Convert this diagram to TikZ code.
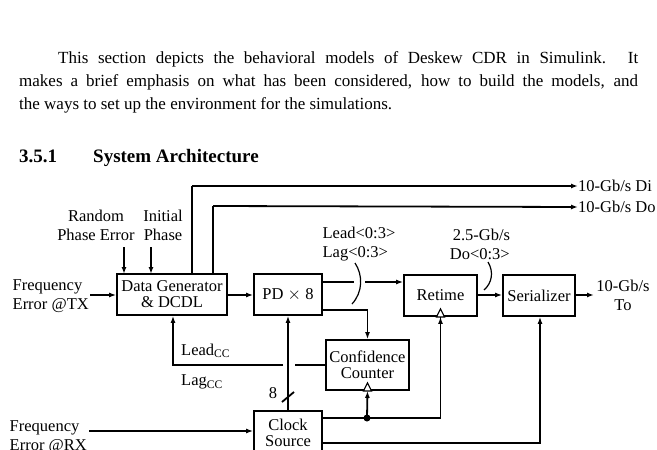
\documentclass[tikz,border=0pt]{standalone}
\usepackage{fontspec}
\setmainfont{Liberation Serif}
\usetikzlibrary{arrows.meta}
\begin{document}
\begin{tikzpicture}[x=1pt,y=-1pt,
  blk/.style={draw,line width=1.8pt,inner sep=0pt,align=center,font=\fontsize{16.5}{17}\selectfont},
  wire/.style={line width=1.8pt},
  arr/.style={wire,-{Latex[length=7pt,width=5pt]}},
  lbl/.style={align=left,font=\fontsize{16.5}{19}\selectfont,inner sep=0pt},
  clk/.style={line width=1.2pt,fill=white}]
\useasboundingbox (0,0) rectangle (657,450);
% text
\node[anchor=base west,inner sep=0pt,font=\fontsize{17}{20}\selectfont] (t1) at (58,63) {\makebox[580pt][s]{This section depicts the behavioral models of Deskew CDR in Simulink. It}};
\node[anchor=base west,inner sep=0pt,font=\fontsize{17}{20}\selectfont] (t2) at (19,86) {\makebox[619pt][s]{makes a brief emphasis on what has been considered, how to build the models, and}};
\node[anchor=base west,inner sep=0pt,font=\fontsize{17}{20}\selectfont] (t3) at (19,109) {the ways to set up the environment for the simulations.};
\node[anchor=base west,inner sep=0pt,font=\bfseries\fontsize{19}{22}\selectfont] (h1) at (19,162) {3.5.1};
\node[anchor=base west,inner sep=0pt,font=\bfseries\fontsize{19}{22}\selectfont] (h2) at (93,162) {System Architecture};
% blocks
\node[blk,minimum width=110pt,minimum height=41pt] (dg) at (172,294.5) {Data Generator\\[-1pt]\& DCDL};
\node[blk,minimum width=68pt,minimum height=41pt] (pd) at (288,294.5) {PD $\times$ 8};
\node[blk,minimum width=73pt,minimum height=41pt] (rt) at (440.5,295.5) {Retime};
\node[blk,minimum width=72pt,minimum height=41pt] (sr) at (539,295.5) {Serializer};
\node[blk,minimum width=83pt,minimum height=50pt] (cc) at (367.5,365) {Confidence\\[-1pt]Counter};
\node[blk,minimum width=68pt,minimum height=44pt] (cs) at (288,433) {Clock\\[-1pt]Source};
% labels
\node[lbl,align=center] (rpe) at (96,225) {Random\\Phase Error};
\node[lbl,align=center] (ip) at (163,225) {Initial\\Phase};
\node[lbl,anchor=east] (fetx) at (89,296) {Frequency\\Error @TX};
\node[lbl,anchor=east] (ferx) at (87,437) {Frequency\\Error @RX};
\node[lbl,anchor=west] (di) at (578,186) {10-Gb/s Di};
\node[lbl,anchor=west] (do) at (578,207) {10-Gb/s Do};
\node[lbl] (ll) at (359,244) {Lead<0:3>\\Lag<0:3>};
\node[lbl] (gb) at (480,244) {\hspace*{3pt}2.5-Gb/s\\Do<0:3>};
\node[lbl,align=center] (to) at (623,295) {10-Gb/s\\To};
\node[lbl,anchor=west] (lcc) at (181,351) {Lead\textsubscript{CC}};
\node[lbl,anchor=west] (gcc) at (181,382) {Lag\textsubscript{CC}};
\node[lbl] (eight) at (273,393) {8};
% coordinates
\coordinate (dot) at (367,418);
% wires
\draw[wire] (192,274) |- (192,186) coordinate (a1);
\draw[arr] (a1) -- (di.west);
\draw[wire] (213,274) |- (213,206) coordinate (a2);
\draw[arr] (a2) -- (do.west);
\draw[arr] (124,247) -- (124,274);
\draw[arr] (151,247) -- (151,274);
\draw[arr] (90,295) -- (dg.west |- 0,295);
\draw[arr] (dg.east |- 0,295) -- (pd.west |- 0,295);
\draw[wire] (pd.east |- 0,282) -- (354,282);
\draw[arr] (365,282) -- (rt.west |- 0,282);
\draw[line width=1.2pt] (355,263) .. controls (363,275) and (363,292) .. (352,304);
\draw[arr] (pd.east |- 0,310) -| (cc.north);
\draw[wire] (cc.west) -- (295,365);
\draw[arr] (283,365) -| (dg.south -| 173,0);
\draw[arr] (cs.north) -- (pd.south);
\draw[wire] (282,402) -- (294,392);
\draw[wire] (cs.east |- 0,418) -| (rt.south);
\draw[arr] (dot) -- (cc.south);
\draw[arr] (440.5,340) -- (rt.south);
\fill (dot) circle (3.5pt);
\draw[arr] (cs.east |- 0,443) -| (sr.south -| 540,0);
\draw[arr] (rt.east |- 0,295) -- (sr.west |- 0,295);
\draw[line width=1.2pt] (488,262) .. controls (494,272) and (492,283) .. (484,290);
\draw[arr] (sr.east |- 0,295) -- (594,295);
\draw[arr] (89,431) -- (cs.west |- 0,431);
% clock triangles
\draw[clk] ([xshift=-4pt]rt.south) -- ([yshift=8pt]rt.south) -- ([xshift=4pt]rt.south) -- cycle;
\draw[clk] ([xshift=-4pt]cc.south) -- ([yshift=8pt]cc.south) -- ([xshift=4pt]cc.south) -- cycle;
\end{tikzpicture}
\end{document}
